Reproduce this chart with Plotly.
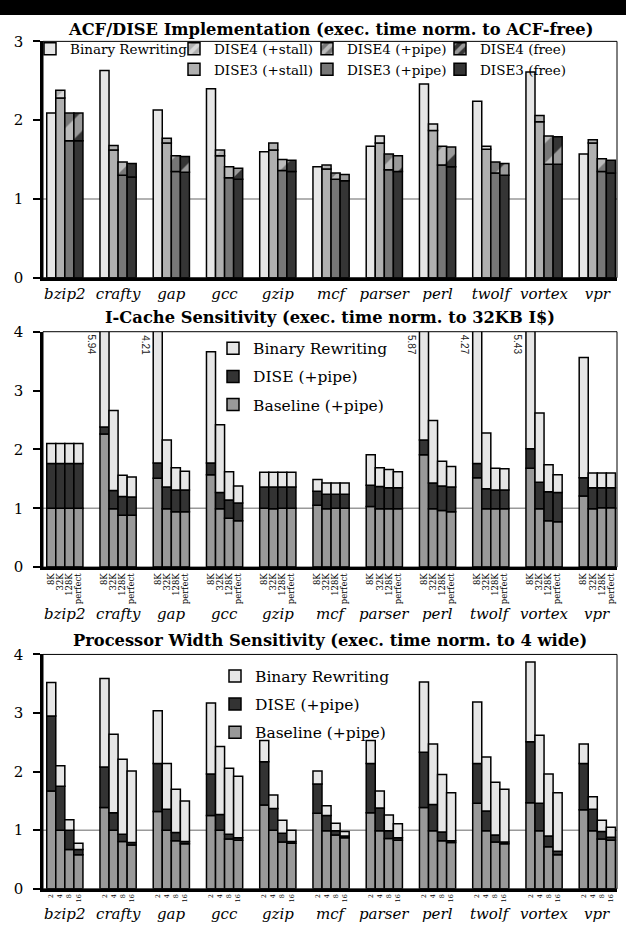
import plotly.graph_objects as go

benchmarks = ["bzip2", "crafty", "gap", "gcc", "gzip", "mcf", "parser", "perl", "twolf", "vortex", "vpr"]

# ---------------- Panel 1: ACF/DISE implementation ----------------
acf_binary = [2.09, 2.63, 2.13, 2.40, 1.60, 1.41, 1.67, 2.46, 2.24, 2.61, 1.57]
dise3_stall = [2.28, 1.62, 1.71, 1.55, 1.62, 1.38, 1.71, 1.87, 1.63, 1.98, 1.71]
dise4_stall = [2.38, 1.68, 1.77, 1.62, 1.71, 1.43, 1.80, 1.95, 1.67, 2.06, 1.75]
dise3_pipe = [1.74, 1.30, 1.35, 1.27, 1.36, 1.25, 1.37, 1.43, 1.33, 1.44, 1.35]
dise4_pipe = [2.09, 1.47, 1.55, 1.41, 1.50, 1.33, 1.57, 1.67, 1.47, 1.80, 1.51]
dise3_free = [1.74, 1.28, 1.34, 1.25, 1.35, 1.23, 1.35, 1.41, 1.30, 1.44, 1.33]
dise4_free = [2.09, 1.45, 1.54, 1.39, 1.49, 1.31, 1.55, 1.66, 1.45, 1.79, 1.49]

# ---------------- Panel 2: I-cache sensitivity (cumulative tops) ----------------
icache_sizes = ["8K", "32K", "128K", "perfect"]
ic_baseline = [
    [1.00, 1.00, 1.00, 1.00], [2.26, 0.99, 0.88, 0.88], [1.51, 0.99, 0.94, 0.94],
    [1.57, 0.99, 0.83, 0.79], [1.00, 0.99, 1.00, 1.00], [1.05, 0.99, 1.00, 1.00],
    [1.03, 0.99, 0.99, 0.99], [1.91, 0.99, 0.96, 0.94], [1.52, 0.99, 0.99, 0.99],
    [1.68, 0.99, 0.79, 0.77], [1.21, 0.99, 1.01, 1.01],
]
ic_dise = [
    [1.76, 1.76, 1.76, 1.76], [2.38, 1.30, 1.20, 1.19], [1.77, 1.36, 1.31, 1.31],
    [1.77, 1.27, 1.14, 1.09], [1.36, 1.36, 1.36, 1.36], [1.29, 1.24, 1.24, 1.24],
    [1.39, 1.37, 1.35, 1.35], [2.16, 1.43, 1.38, 1.36], [1.76, 1.33, 1.31, 1.31],
    [2.01, 1.44, 1.28, 1.27], [1.52, 1.35, 1.35, 1.35],
]
ic_binary = [
    [2.10, 2.10, 2.10, 2.10], [5.94, 2.66, 1.56, 1.53], [4.21, 2.16, 1.69, 1.63],
    [3.66, 2.42, 1.62, 1.38], [1.61, 1.61, 1.61, 1.61], [1.49, 1.43, 1.43, 1.43],
    [1.91, 1.69, 1.66, 1.62], [5.87, 2.49, 1.80, 1.71], [4.27, 2.28, 1.68, 1.67],
    [5.43, 2.62, 1.74, 1.57], [3.56, 1.60, 1.60, 1.60],
]

# ---------------- Panel 3: processor width sensitivity (cumulative tops) ----------------
widths = ["2", "4", "8", "16"]
pw_baseline = [
    [1.67, 1.00, 0.67, 0.58], [1.39, 1.00, 0.81, 0.75], [1.32, 1.00, 0.82, 0.77],
    [1.25, 1.00, 0.85, 0.83], [1.43, 1.00, 0.80, 0.78], [1.29, 0.99, 0.92, 0.87],
    [1.30, 0.99, 0.86, 0.83], [1.39, 0.99, 0.82, 0.79], [1.46, 0.99, 0.80, 0.77],
    [1.47, 0.99, 0.72, 0.58], [1.35, 0.99, 0.85, 0.83],
]
pw_dise = [
    [2.95, 1.75, 1.00, 0.67], [2.08, 1.30, 0.93, 0.79], [2.14, 1.36, 0.96, 0.81],
    [1.96, 1.27, 0.93, 0.87], [2.17, 1.37, 0.95, 0.81], [1.79, 1.25, 0.99, 0.90],
    [2.14, 1.38, 0.99, 0.87], [2.33, 1.44, 0.97, 0.82], [2.14, 1.33, 0.92, 0.80],
    [2.51, 1.46, 0.90, 0.64], [2.14, 1.36, 0.98, 0.88],
]
pw_binary = [
    [3.52, 2.10, 1.18, 0.78], [3.59, 2.64, 2.21, 2.01], [3.04, 2.14, 1.70, 1.50],
    [3.17, 2.43, 2.06, 1.92], [2.53, 1.60, 1.17, 1.00], [2.01, 1.42, 1.12, 0.98],
    [2.53, 1.67, 1.26, 1.11], [3.53, 2.47, 1.95, 1.64], [3.19, 2.25, 1.82, 1.70],
    [3.87, 2.62, 1.96, 1.64], [2.47, 1.57, 1.17, 1.05],
]

# ---------------- styling ----------------
SERIF = "DejaVu Serif"
C_BR = "#e6e6e6"
C_STALL = "#b0b0b0"
C_PIPE = "#777777"
C_FREE = "#353535"
C_BASE = "#999999"
C_DISE = "#333333"
BW = 0.17  # bar width in group units
LINE = dict(color="black", width=1.5)
W, H = 626, 942


def slot(i, j):
    return i + (j - 1.5) * BW


def ydom(top_px, bot_px):
    return [1 - bot_px / H, 1 - top_px / H]


XDOM = [43 / W, 617 / W]
XR = [-0.41, 10.37]

fig = go.Figure()
n = len(benchmarks)

# ---- panel 1 traces ----
fig.add_trace(go.Bar(x=[slot(i, 0) for i in range(n)], y=acf_binary, width=BW,
                     marker=dict(color=C_BR, line=LINE), name="Binary Rewriting",
                     xaxis="x", yaxis="y", legend="legend"))


def pattern(c):
    return dict(shape="/", fgcolor="white", bgcolor=c, size=28, solidity=0.5, fillmode="overlay")


for j, (low, high, c, lab, lg) in enumerate([
    (dise3_stall, dise4_stall, C_STALL, "+stall", "legend2"),
    (dise3_pipe, dise4_pipe, C_PIPE, "+pipe", "legend3"),
    (dise3_free, dise4_free, C_FREE, "free", "legend4"),
], start=1):
    xs = [slot(i, j) for i in range(n)]
    fig.add_trace(go.Bar(x=xs, y=low, width=BW, marker=dict(color=c, line=LINE),
                         name=f"DISE3 ({lab})", xaxis="x", yaxis="y", legend=lg, legendrank=2))
    fig.add_trace(go.Bar(x=xs, y=[h - l for h, l in zip(high, low)], base=low, width=BW,
                         marker=dict(color=c, line=LINE, pattern=pattern(c)),
                         name=f"DISE4 ({lab})", xaxis="x", yaxis="y", legend=lg, legendrank=1))


# ---- panels 2/3 ----
def stacked(base, dise, binary, xa, ya, lg):
    xs, b, d, r = [], [], [], []
    for i in range(n):
        for j in range(4):
            xs.append(slot(i, j))
            b.append(base[i][j])
            d.append(dise[i][j])
            r.append(binary[i][j])
    fig.add_trace(go.Bar(x=xs, y=b, width=BW, marker=dict(color=C_BASE, line=LINE),
                         name="Baseline (+pipe)", xaxis=xa, yaxis=ya, legend=lg,
                         legendgroup=lg + "a", legendrank=3))
    fig.add_trace(go.Bar(x=xs, y=[dd - bb for dd, bb in zip(d, b)], base=b, width=BW,
                         marker=dict(color=C_DISE, line=LINE),
                         name="DISE (+pipe)", xaxis=xa, yaxis=ya, legend=lg,
                         legendgroup=lg + "b", legendrank=2))
    fig.add_trace(go.Bar(x=xs, y=[rr - dd for rr, dd in zip(r, d)], base=d, width=BW,
                         marker=dict(color=C_BR, line=LINE),
                         name="Binary Rewriting", xaxis=xa, yaxis=ya, legend=lg,
                         legendgroup=lg + "c", legendrank=1))
    return xs


xs2 = stacked(ic_baseline, ic_dise, ic_binary, "x2", "y2", "legend5")
xs3 = stacked(pw_baseline, pw_dise, pw_binary, "x3", "y3", "legend6")

annotations = []
# clipped value labels
for i in range(n):
    for j in range(4):
        v = ic_binary[i][j]
        if v > 4:
            annotations.append(dict(x=slot(i, j) - BW / 2 - 0.02, y=3.98, xref="x2", yref="y2",
                                    text=f"{v:.2f}", textangle=90, showarrow=False,
                                    xanchor="right", yanchor="top",
                                    font=dict(family="Liberation Sans", size=10, color="#222")))
# group names below panels 2 and 3
for i, b in enumerate(benchmarks):
    for xr, ypx in (("x2", 617), ("x3", 923)):
        annotations.append(dict(x=i, y=1 - ypx / H, xref=xr, yref="paper", text=f"<i>{b}</i>",
                                showarrow=False, xanchor="center", yanchor="middle",
                                font=dict(family=SERIF, size=15, color="black")))
# panel titles
for txt, ypx in (("ACF/DISE Implementation (exec. time norm. to ACF-free)", 21),
                 ("I-Cache Sensitivity (exec. time norm. to 32KB I$)", 315),
                 ("Processor Width Sensitivity (exec. time norm. to 4 wide)", 644)):
    annotations.append(dict(x=330 / W, y=1 - ypx / H, xref="paper", yref="paper", text=f"<b>{txt}</b>",
                            showarrow=False, xanchor="center", yanchor="middle",
                            font=dict(family=SERIF, size=16.3, color="black")))

shapes = [dict(type="rect", xref="paper", yref="paper", x0=0, x1=1, y0=1 - 6 / H, y1=1.01,
               fillcolor="black", line=dict(width=0), layer="above")]
for k in ("", "2", "3"):
    shapes.append(dict(type="line", xref=f"x{k} domain", yref=f"y{k}", x0=0, x1=1, y0=1, y1=1,
                       line=dict(color="#999999", width=1.5), layer="below"))
    shapes.append(dict(type="rect", xref=f"x{k} domain", yref=f"y{k} domain", x0=0, x1=1, y0=0, y1=1,
                       line=dict(color="black", width=1), layer="above"))


def yaxis(dom, rng, anchor):
    return dict(domain=dom, range=rng, anchor=anchor, showline=True, linewidth=2.5, linecolor="black",
                ticks="outside", ticklen=7, tickwidth=2, tickcolor="black", dtick=1,
                showgrid=False, zeroline=False, tickfont=dict(family=SERIF, size=15, color="black"),
                ticklabelstandoff=7, fixedrange=True)


def xaxis(anchor, tickvals, ticktext, font, angle=0):
    return dict(domain=XDOM, range=XR, anchor=anchor, showline=True, linewidth=2.5, linecolor="black",
                ticks="", tickmode="array", tickvals=tickvals, ticktext=ticktext, tickangle=angle,
                showgrid=False, zeroline=False, tickfont=font, fixedrange=True)


leg_common = dict(bgcolor="rgba(0,0,0,0)", xanchor="left", yanchor="top", orientation="v")
TOPLEG = dict(family=SERIF, size=13.5, color="black")
MIDLEG = dict(family=SERIF, size=15.5, color="black")

fig.update_layout(
    width=W, height=942, margin=dict(l=0, r=0, t=0, b=0),
    paper_bgcolor="white", plot_bgcolor="white",
    barmode="overlay",
    xaxis=xaxis("y", list(range(n)), [f"<i>{b}</i>" for b in benchmarks],
                dict(family=SERIF, size=15, color="black")),
    xaxis2=xaxis("y2", xs2, icache_sizes * n, dict(family=SERIF, size=8.5, color="black"), -90),
    xaxis3=xaxis("y3", xs3, widths * n, dict(family=SERIF, size=6.5, color="black"), -90),
    yaxis=yaxis(ydom(33, 274), [0, 3], "x"),
    yaxis2=yaxis(ydom(329, 569), [0, 4], "x2"),
    yaxis3=yaxis(ydom(658, 897), [0, 4], "x3"),
    legend=dict(x=30 / W, y=1 - 25 / H, font=TOPLEG, **leg_common),
    legend2=dict(x=174 / W, y=1 - 25 / H, font=TOPLEG, **leg_common),
    legend3=dict(x=307 / W, y=1 - 25 / H, font=TOPLEG, **leg_common),
    legend4=dict(x=440 / W, y=1 - 25 / H, font=TOPLEG, **leg_common),
    legend5=dict(x=213 / W, y=1 - 329 / H, traceorder="grouped", tracegroupgap=5, font=MIDLEG, **leg_common),
    legend6=dict(x=215 / W, y=1 - 663 / H, traceorder="grouped", tracegroupgap=5, font=MIDLEG, **leg_common),
    annotations=annotations,
    shapes=shapes,
    showlegend=True,
)

fig.write_html("out.html")
